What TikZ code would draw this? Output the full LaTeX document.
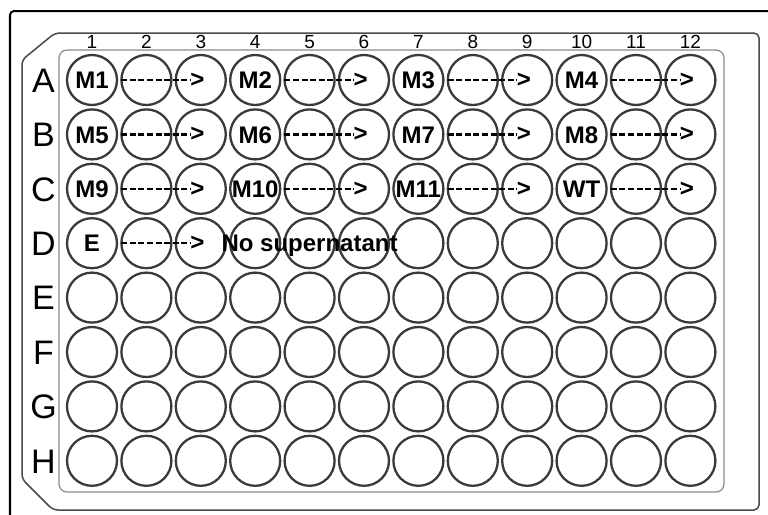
\documentclass[tikz,border=0pt]{standalone}
\usepackage{fontspec}
\setmainfont{Liberation Sans}
\usetikzlibrary{calc}
\definecolor{welledge}{HTML}{3A3A3A}
\definecolor{plategray}{HTML}{4A4A4A}
\definecolor{areagray}{HTML}{8A8A8A}
\tikzset{
  frameline/.style={line width=1pt, black, rounded corners=2pt},
  plateline/.style={line width=0.75pt, plategray, rounded corners=2.5pt},
  arealine/.style={line width=0.6pt, areagray, rounded corners=4pt},
  well/.style={circle, draw=welledge, line width=1.15pt, minimum size=25pt, inner sep=0pt},
  lbl/.style={inner sep=0pt, text height=8.6pt, text depth=0pt, font=\bfseries\fontsize{12}{12}\selectfont},
  rowlbl/.style={inner sep=0pt, text height=12.2pt, text depth=0pt, font=\fontsize{17}{17}\selectfont},
  collbl/.style={inner sep=0pt, text height=6.8pt, text depth=0pt, font=\fontsize{9.5}{9.5}\selectfont},
  tip/.style={inner sep=0pt, anchor=east, font=\bfseries\fontsize{12}{12}\selectfont},
  dashline/.style={line width=1.2pt, dash pattern=on 3pt off 1.3pt, shorten <=1.5pt}
}
\begin{document}
\begin{tikzpicture}[x=0.5pt,y=-0.5pt]
\useasboundingbox (0,0) rectangle (768,515);
\clip (0,0) rectangle (768,515);
% outer frame and plate body
\draw[frameline] (10,540) -- (10,11) -- (800,11);
\draw[plateline] (55,33) -- (759,33) -- (759,510) -- (53,510) -- (22,479) -- (22,60) -- cycle;
\draw[arealine] (59,50) rectangle (724,492);
% wells and row letters
\foreach \r [count=\i] in {A,...,H}{
  \node[rowlbl] (r-\r) at (43.5,{80+(\i-1)*54.4}) {\r};
  \foreach \c in {1,...,12}
    \node[well] (w-\r-\c) at ({92+(\c-1)*54.4},{80+(\i-1)*54.4}) {};
}
% column numbers
\foreach \c in {1,...,12}
  \node[collbl] (c-\c) at ({92+(\c-1)*54.4},42) {\c};
% samples
\path
(w-A-1) node[lbl] (M1) {M1}
(w-A-4) node[lbl] (M2) {M2}
(w-A-7) node[lbl] (M3) {M3}
(w-A-10) node[lbl] (M4) {M4}
(w-B-1) node[lbl] (M5) {M5}
(w-B-4) node[lbl] (M6) {M6}
(w-B-7) node[lbl] (M7) {M7}
(w-B-10) node[lbl] (M8) {M8}
(w-C-1) node[lbl] (M9) {M9}
(w-C-4) node[lbl] (M10) {M10}
(w-C-7) node[lbl] (M11) {M11}
(w-C-10) node[lbl] (WT) {WT}
(w-D-1) node[lbl] (E) {E}
(w-D-5) node[lbl] (nosup) {No supernatant};
% dilution arrows
\foreach \s/\e in {A-1/A-3, A-4/A-6, A-7/A-9, A-10/A-12,
                   B-1/B-3, B-4/B-6, B-7/B-9, B-10/B-12,
                   C-1/C-3, C-4/C-6, C-7/C-9, C-10/C-12, D-1/D-3}{
  \node[tip] (t-\s) at ($(w-\e.center)+(4,0)$) {>};
  \draw[dashline] (w-\s) -- (t-\s);
}
\end{tikzpicture}
\end{document}
